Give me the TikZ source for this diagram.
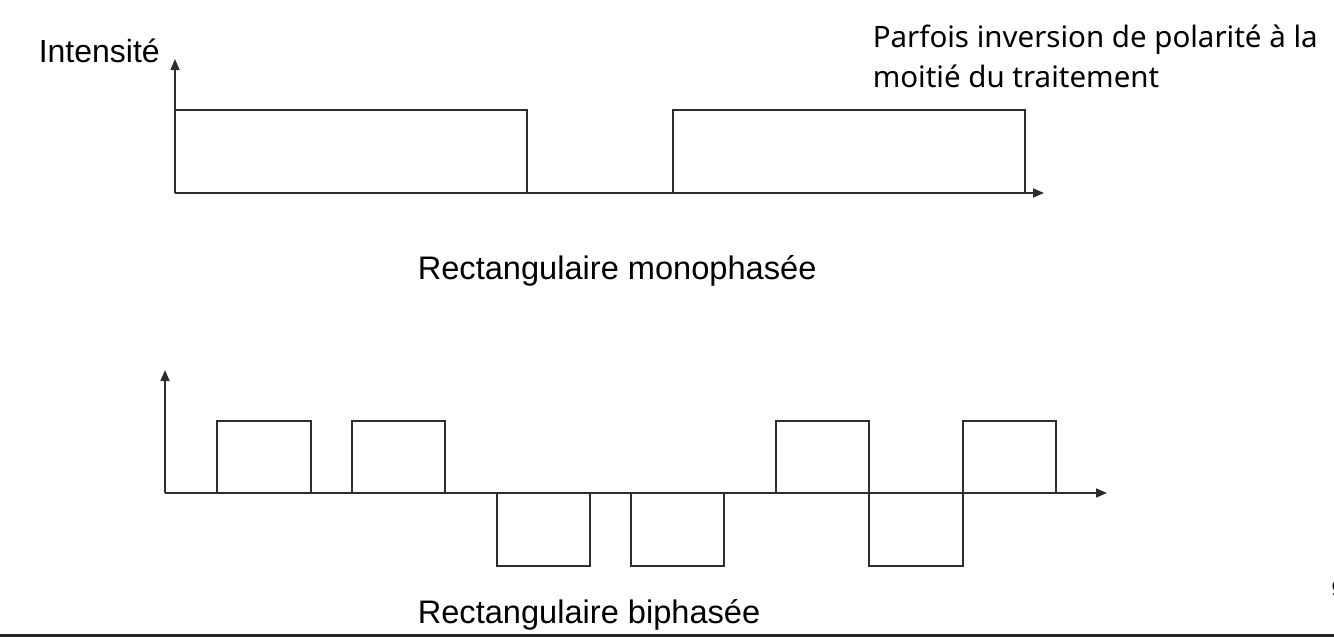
\documentclass[tikz,border=0pt]{standalone}
\usepackage{fontspec}
\setmainfont{Liberation Sans}
\newfontfamily\notefont{Noto Sans}
\usetikzlibrary{arrows.meta}
\definecolor{trace}{RGB}{45,45,45}

\begin{document}
\begin{tikzpicture}[x=1pt,y=-1pt,line width=1.6pt,
    axis/.style={draw=trace,-{Triangle[length=11pt,width=9pt]}},
    pulse/.style={draw=trace},
    label/.style={inner sep=0pt,anchor=base west,font=\fontsize{32.6}{38}\selectfont},
    note/.style={inner sep=0pt,anchor=base west,font=\notefont\fontsize{29.5}{40}\selectfont}]
			\useasboundingbox (0,0) rectangle (1334,637);

			% Monophase signal
			\draw[axis] (175,193) -- (175,59);
			\draw[axis] (175,193) -- (1044,193);
			\draw[pulse] (175,110) -- (527,110) -- (527,193);
			\draw[pulse] (673,193) -- (673,110) -- (1025,110) -- (1025,193);

			% Biphase signal
			\draw[axis] (165,493) -- (165,370);
			\draw[axis] (165,493) -- (1107,493);
			\foreach \a/\b in {217/311,352/445,776/869,963/1056}
				\draw[pulse] (\a,493) rectangle (\b,421);
			\foreach \a/\b in {497/590,631/724,869/963}
				\draw[pulse] (\a,493) rectangle (\b,566);

			% Labels
			\node[label,font=\fontsize{32}{38}\selectfont] (intensite) at (38,62) {Intensité};
			\node[label] (mono) at (417,279) {Rectangulaire monophasée};
			\node[label] (bi) at (417,623) {Rectangulaire biphasée};
			\node[note] (note1) at (872,47) {Parfois inversion de polarité à la};
			\node[note] (note2) at (872,87) {moitié du traitement};

			% Page edge
			\node[inner sep=0pt,anchor=base west,font=\bfseries\fontsize{24}{28}\selectfont] (page) at (1331,597) {9};
			\fill[black!85] (0,634) rectangle (1334,637);
		\end{tikzpicture}
\end{document}
